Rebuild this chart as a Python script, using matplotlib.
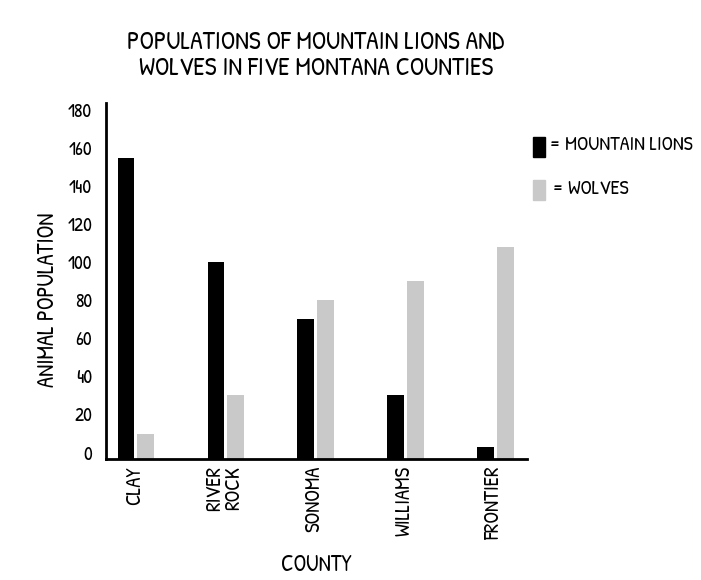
import matplotlib
matplotlib.use("Agg")
import matplotlib.pyplot as plt
import numpy as np
from matplotlib.patches import Rectangle

counties = ["CLAY", "RIVER\nROCK", "SONOMA", "WILLIAMS", "FRONTIER"]
mountain_lions = [155, 100, 70, 30, 3]
wolves = [10, 30, 80, 90, 108]
yticks = [0, 20, 40, 60, 80, 100, 120, 140, 160, 180]

FONT = ["Patrick Hand", "Roboto Condensed", "DejaVu Sans"]
plt.rcParams["font.family"] = FONT

fig = plt.figure(figsize=(7.01, 5.80), dpi=100)
ax = fig.add_axes([0.151, 0.2086, 0.601, 0.6138])

base = -3.4
x = np.arange(len(counties))
w = 0.185
off = 0.11
ax.bar(x - off, np.array(mountain_lions) - base, bottom=base, width=w, color="black")
ax.bar(x + off, np.array(wolves) - base, bottom=base, width=w, color="#c9c9c9")

ax.set_xlim(-0.334, 4.354)
ax.set_ylim(base, 183.7)
ax.set_yticks(yticks)
ax.set_yticklabels([str(v) for v in yticks], fontsize=14)
ax.set_xticks(x)
ax.set_xticklabels(counties, rotation=90, fontsize=15, va="top", ha="center",
                   linespacing=0.8)
ax.tick_params(axis="both", length=0)
ax.tick_params(axis="y", pad=10)
ax.tick_params(axis="x", pad=5)
for s in ["top", "right"]:
    ax.spines[s].set_visible(False)
for s in ["left", "bottom"]:
    ax.spines[s].set_linewidth(2)

fig.text(49/701, 1-300/580, "ANIMAL POPULATION", fontsize=16.5, rotation=90,
         ha="center", va="center")
fig.text(316/701, 1-566/580, "COUNTY", fontsize=16.5, ha="center", va="center")
fig.text(316/701, 1-57/580, "POPULATIONS OF MOUNTAIN LIONS AND\nWOLVES IN FIVE MONTANA COUNTIES",
         fontsize=18.5, ha="center", va="center", linespacing=0.95)

# legend
fig.patches.append(Rectangle((533/701, 1-157/580), 12/701, 20/580, transform=fig.transFigure,
                             color="black"))
fig.patches.append(Rectangle((533/701, 1-200/580), 12/701, 20/580, transform=fig.transFigure,
                             color="#c9c9c9"))
fig.text(549/701, 1-146/580, "= MOUNTAIN LIONS", fontsize=14.5, va="center", ha="left")
fig.text(552/701, 1-190/580, "= WOLVES", fontsize=14.5, va="center", ha="left")

fig.savefig("out.png", dpi=100)
